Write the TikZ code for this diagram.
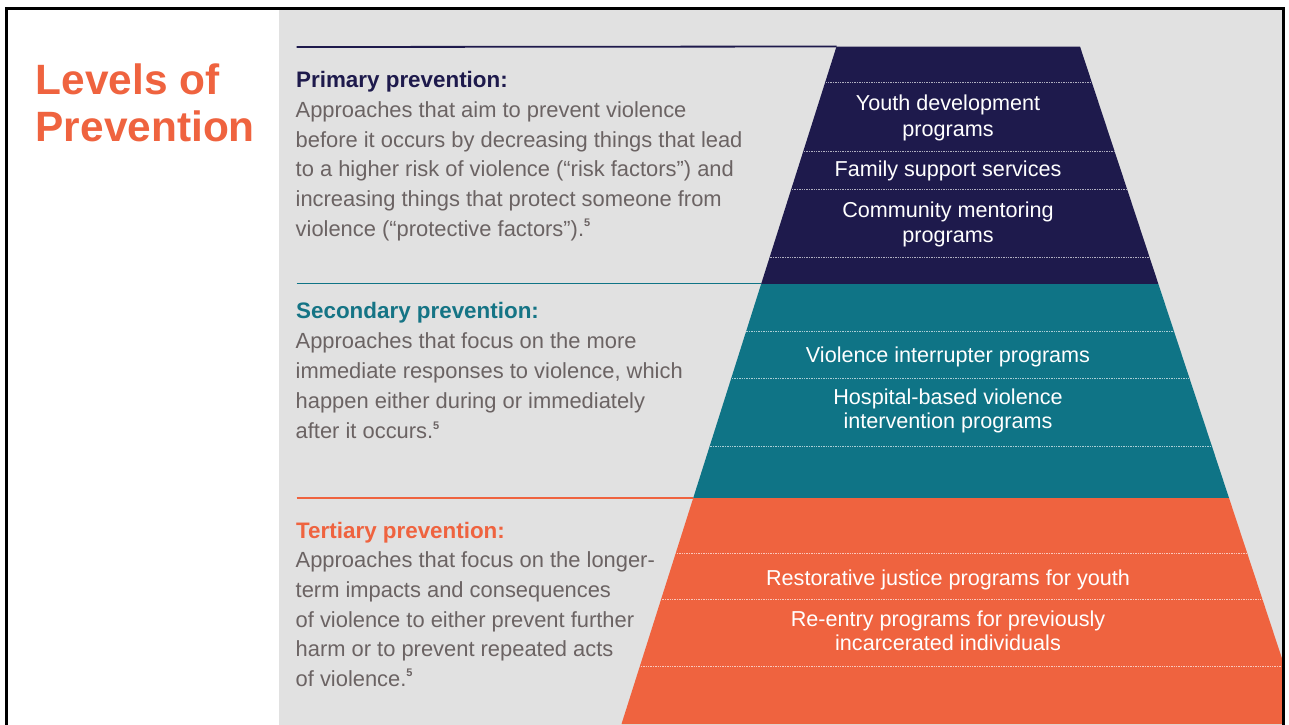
\documentclass[tikz,border=0pt]{standalone}
\usepackage{fontspec}
\setmainfont{Liberation Sans}
\definecolor{navyband}{HTML}{1E1A4C}
\definecolor{tealband}{HTML}{0F7486}
\definecolor{orangeband}{HTML}{EF633F}
\definecolor{panelgray}{HTML}{E1E1E1}
\definecolor{bodygray}{HTML}{6B6363}
\definecolor{tealhead}{HTML}{157485}
\tikzset{
  title/.style={anchor=base west, inner sep=0pt, text=orangeband, font=\fontsize{42.4}{47}\selectfont\bfseries},
  heading/.style={anchor=base west, inner sep=0pt, font=\fontsize{22.4}{26}\selectfont\bfseries},
  bodyline/.style={anchor=base west, inner sep=0pt, text=bodygray, font=\fontsize{21.9}{26}\selectfont},
  label/.style={anchor=base, inner sep=0pt, text=white, font=\fontsize{21.6}{26}\selectfont},
  rule/.style={line width=1.8pt},
  dotline/.style={line width=1pt, dash pattern=on 1.3pt off 1.1pt},
}
\newcommand{\supfive}{\raisebox{0.42em}{\fontsize{11}{11}\selectfont\bfseries 5}}
\begin{document}
\begin{tikzpicture}[x=1pt,y=-1pt]
\useasboundingbox (0,0) rectangle (1289,724);
\fill[white] (0,0) rectangle (1289,724);
% gray panel
\fill[panelgray] (279,10) rectangle (1282,730);
% pyramid corners
\coordinate (tl) at (836.5,46.5);
\coordinate (tr) at (1080,46.5);
\coordinate (bl) at (621.5,724);
\coordinate (br) at (1303.6,724);
\coordinate (ml) at (761.4,283.5);
\coordinate (ll) at (693.1,498);
\begin{scope}
  \clip (279,10) rectangle (1282,730);
  \clip (tl) -- (tr) -- (br) -- (bl) -- cycle;
  \fill[navyband] (600,40) rectangle (1310,283.5);
  \fill[tealband] (600,283.5) rectangle (1310,498);
  \fill[orangeband] (600,498) rectangle (1310,730);
  \foreach \yy in {82,151.5,189,257}
    \draw[dotline, draw=white!65!navyband] (600,\yy) -- (1310,\yy);
  \foreach \yy in {331,378,446}
    \draw[dotline, draw=white!65!tealband] (600,\yy) -- (1310,\yy);
  \foreach \yy in {553,599,666}
    \draw[dotline, draw=white!65!orangeband] (600,\yy) -- (1310,\yy);
\end{scope}
% rules on the left
\coordinate (r1) at (296.5,47);
\coordinate (r2) at (296.5,283.5);
\coordinate (r3) at (296.5,498);
\draw[rule, navyband] (r1) -- (tl);
\draw[rule, tealband] (r2) -- (ml);
\draw[rule, orangeband] (r3) -- (ll);
% title
\node[title] (t1) at (35.5,94.3) {Levels of};
\node[title] (t2) at (35.5,141) {Prevention};
% primary
\node[heading, text=navyband] (ph) at (296,87.3) {Primary prevention:};
\node[bodyline] (pb1) at (295.5,117.3) {Approaches that aim to prevent violence};
\node[bodyline] (pb2) at (295.5,147) {before it occurs by decreasing things that lead};
\node[bodyline] (pb3) at (295.5,176.7) {to a higher risk of violence (“risk factors”) and};
\node[bodyline] (pb4) at (295.5,206.3) {increasing things that protect someone from};
\node[bodyline] (pb5) at (295.5,236) {violence (“protective factors”).\supfive};
% secondary
\node[heading, text=tealhead] (sh) at (296,318.5) {Secondary prevention:};
\node[bodyline] (sb1) at (295.5,348.5) {Approaches that focus on the more};
\node[bodyline] (sb2) at (295.5,378.5) {immediate responses to violence, which};
\node[bodyline] (sb3) at (295.5,408.5) {happen either during or immediately};
\node[bodyline] (sb4) at (295.5,438.5) {after it occurs.\supfive};
% tertiary
\node[heading, text=orangeband] (th) at (296,538.3) {Tertiary prevention:};
\node[bodyline] (tb1) at (295.5,567.5) {Approaches that focus on the longer-};
\node[bodyline] (tb2) at (295.5,597) {term impacts and consequences};
\node[bodyline] (tb3) at (295.5,627) {of violence to either prevent further};
\node[bodyline] (tb4) at (295.5,656.5) {harm or to prevent repeated acts};
\node[bodyline] (tb5) at (295.5,686) {of violence.\supfive};
% pyramid labels
\node[label] (l1a) at (948,110) {Youth development};
\node[label] (l1b) at (948,136.5) {programs};
\node[label] (l2) at (948,176) {Family support services};
\node[label] (l3a) at (948,217) {Community mentoring};
\node[label] (l3b) at (948,242.5) {programs};
\node[label] (l4) at (948,362) {Violence interrupter programs};
\node[label] (l5a) at (948,404) {Hospital-based violence};
\node[label] (l5b) at (948,428) {intervention programs};
\node[label] (l6) at (948,585) {Restorative justice programs for youth};
\node[label] (l7a) at (948,626) {Re-entry programs for previously};
\node[label] (l7b) at (948,650) {incarcerated individuals};
% outer frame
\draw[line width=3pt, black] (6.5,8.5) rectangle (1283.5,740);
\end{tikzpicture}
\end{document}
